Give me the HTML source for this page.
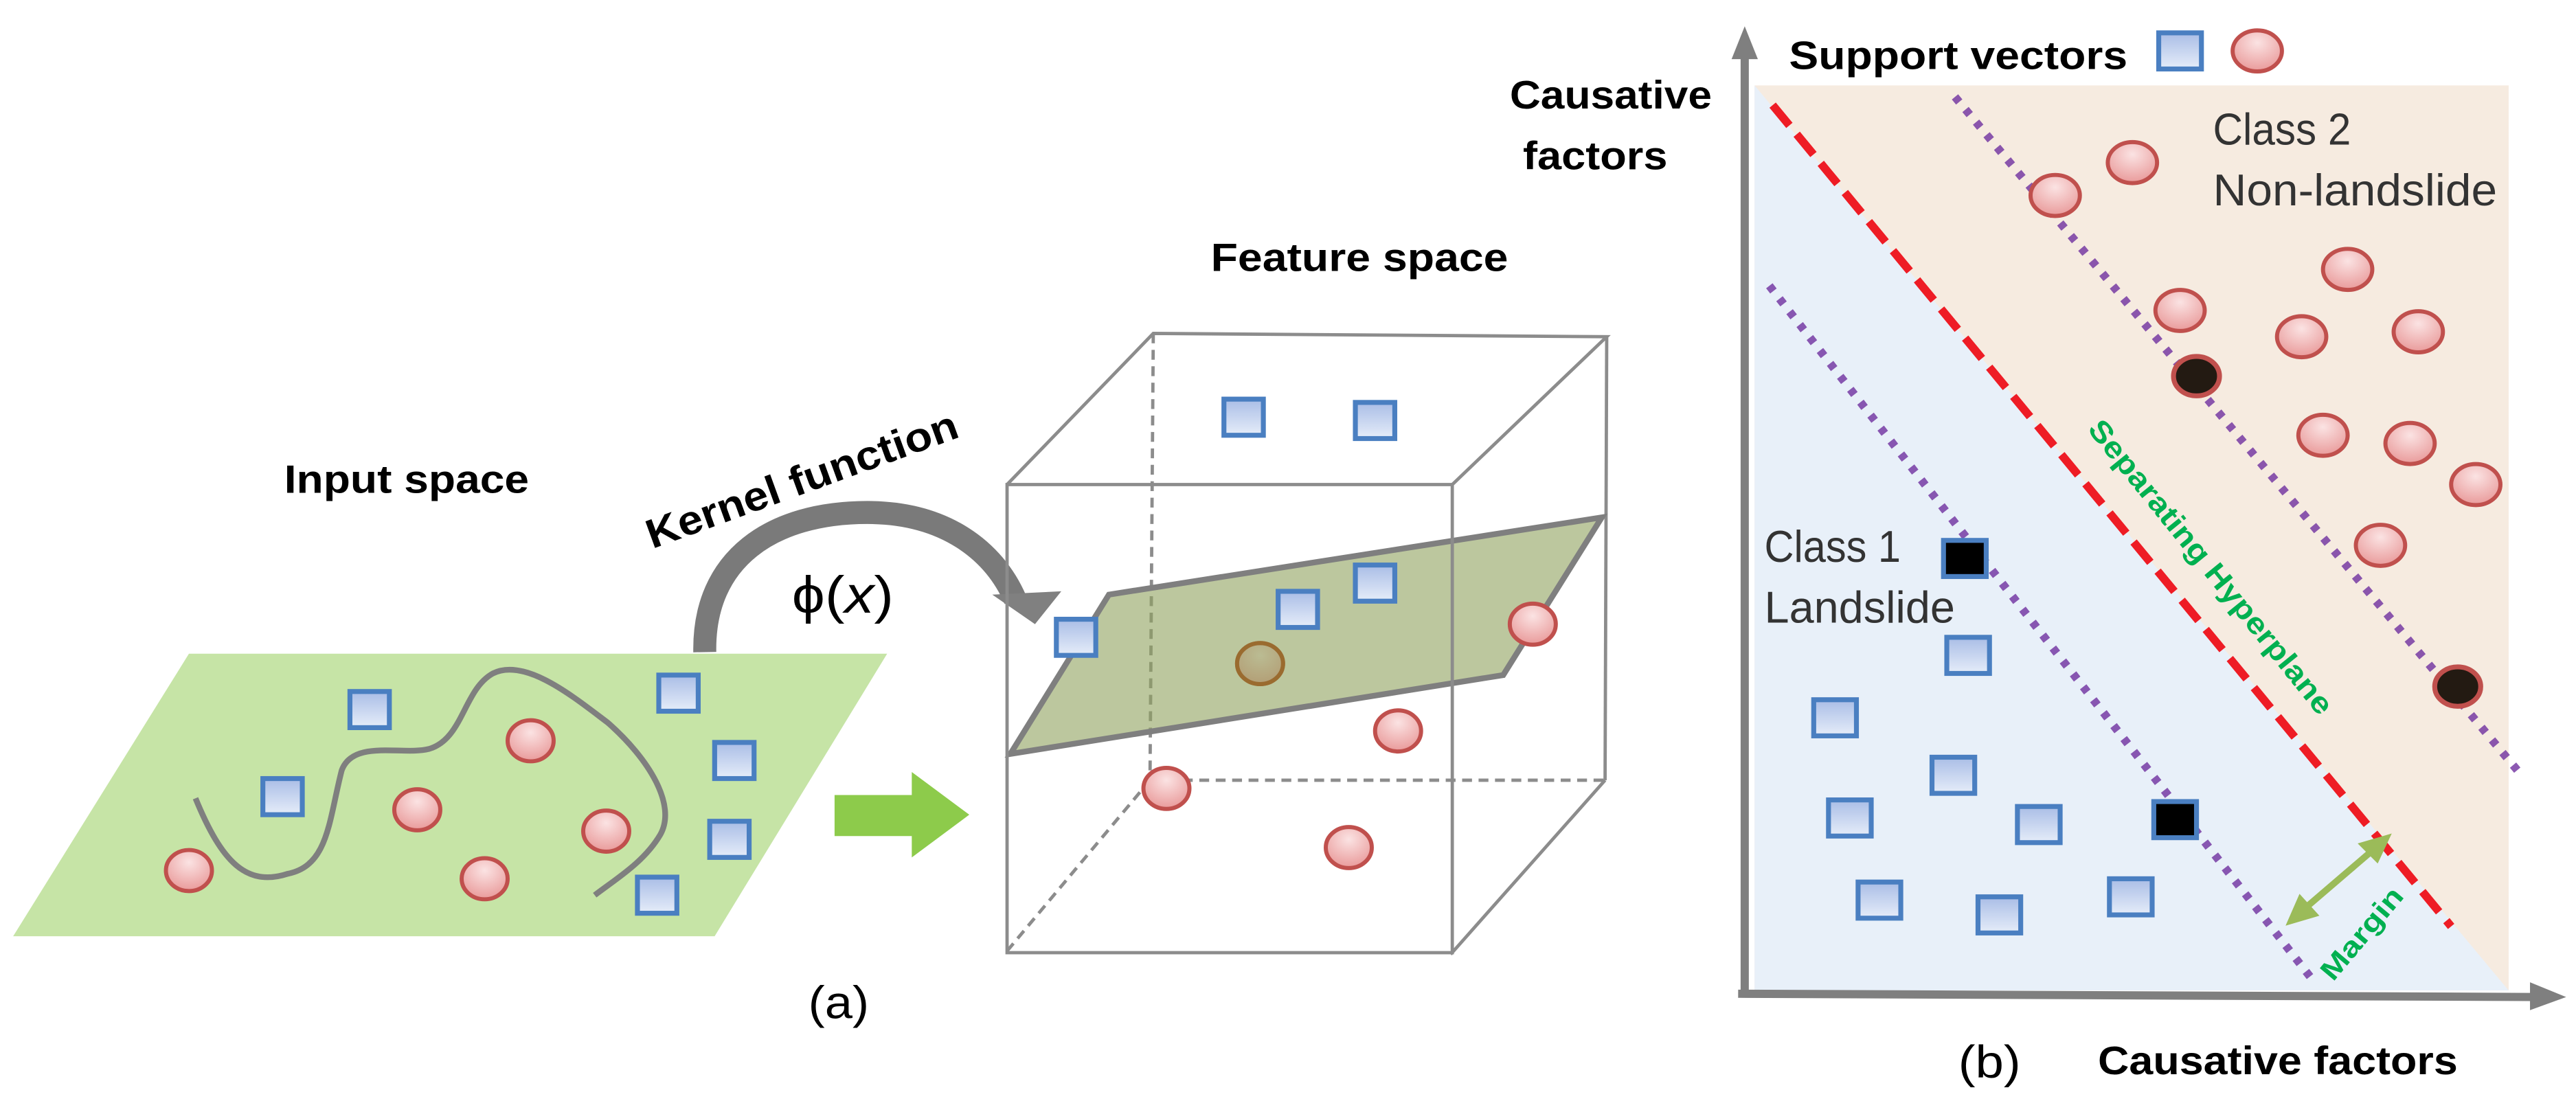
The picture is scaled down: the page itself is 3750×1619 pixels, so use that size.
<!DOCTYPE html>
<html><head><meta charset="utf-8"><style>
html,body{margin:0;padding:0;background:#fff;}
svg{display:block;}
text{font-family:"Liberation Sans",sans-serif;}
</style></head><body>
<svg width="3750" height="1619" viewBox="0 0 1568 677" preserveAspectRatio="none" xmlns="http://www.w3.org/2000/svg">
<defs>
<linearGradient id="sq" x1="0" y1="0" x2="0" y2="1"><stop offset="0" stop-color="#a9bde6"/><stop offset="1" stop-color="#e6edf9"/></linearGradient>
<radialGradient id="ci" cx="0.5" cy="0.3" r="0.7"><stop offset="0" stop-color="#fbe3e3"/><stop offset="1" stop-color="#e99a9a"/></radialGradient>
<g id="s"><rect x="-12" y="-11" width="24" height="22" fill="url(#sq)" stroke="#4a7fc1" stroke-width="3"/></g>
<g id="sb"><rect x="-13" y="-11" width="26" height="22" fill="url(#sq)" stroke="#4a7fc1" stroke-width="3"/></g>
<g id="c"><ellipse rx="14" ry="12.5" fill="url(#ci)" stroke="#c0504d" stroke-width="2.5"/></g>
<g id="cb"><ellipse rx="15" ry="12.5" fill="url(#ci)" stroke="#c0504d" stroke-width="2.5"/></g>
</defs>

<polygon points="8,570 115,398 540,398 435,570" fill="#c6e4a6"/>
<path d="M119,486 C135,525 150,540 175,532 C200,527 200,500 208,469 C215,450 245,460 261,456 C282,450 282,420 300,410 C320,400 350,425 370,440 C395,462 412,490 402,508 C392,525 375,535 362,545" fill="none" stroke="#7f7f7f" stroke-width="3.5"/>
<use href="#s" x="225" y="432"/><use href="#s" x="172" y="485"/><use href="#s" x="413" y="422"/>
<use href="#s" x="447" y="463"/><use href="#s" x="444" y="511"/><use href="#s" x="400" y="545"/>
<use href="#c" x="323" y="451"/><use href="#c" x="254" y="493"/><use href="#c" x="115" y="530"/>
<use href="#c" x="295" y="535"/><use href="#c" x="369" y="506"/>
<text x="173" y="300" font-size="24" font-weight="bold" textLength="149" lengthAdjust="spacingAndGlyphs">Input space</text>

<path d="M429,397 C428,340 470,312 528,312 C575,312 605,335 618,365" fill="none" stroke="#7a7a7a" stroke-width="14"/>
<polygon points="604,362 646,360 630,380" fill="#808080"/>
<text transform="translate(491,300) rotate(-20)" x="0" y="0" text-anchor="middle" font-size="25" font-weight="bold" textLength="200" lengthAdjust="spacingAndGlyphs">Kernel function</text>
<text x="482" y="373" font-family="DejaVu Serif,Liberation Serif,serif" font-size="32" textLength="62" lengthAdjust="spacingAndGlyphs">ϕ(<tspan font-style="italic">x</tspan>)</text>

<polygon points="508,484 555,484 555,470 590,496 555,522 555,509 508,509" fill="#8dcb4b"/>

<g fill="none" stroke="#8c8c8c" stroke-width="2">
<line x1="702" y1="203" x2="700" y2="475" stroke-dasharray="6,4"/>
<line x1="700" y1="475" x2="977" y2="475" stroke-dasharray="6,4"/>
<line x1="613" y1="579" x2="700" y2="475" stroke-dasharray="6,4"/>
<polyline points="613,295 702,203 978,205 884,295"/>
<line x1="978" y1="205" x2="977" y2="475"/>
<line x1="977" y1="475" x2="883" y2="581"/>
</g>
<use href="#c" x="767" y="404"/>
<polygon points="675,362 975,315 915,411 615,459" fill="#8fa15e" fill-opacity="0.6" stroke="#7f7f7f" stroke-width="3.5"/>
<ellipse cx="767" cy="404" rx="14" ry="12.5" fill="none" stroke="#9a6b2f" stroke-width="2.5"/>
<use href="#c" x="933" y="380"/>
<rect x="613" y="295" width="271" height="285" fill="none" stroke="#8c8c8c" stroke-width="2"/>
<use href="#s" x="757" y="254"/><use href="#s" x="837" y="256"/><use href="#s" x="790" y="371"/>
<use href="#s" x="837" y="355"/><use href="#s" x="655" y="388"/>
<use href="#c" x="851" y="445"/><use href="#c" x="710" y="480"/><use href="#c" x="821" y="516"/>
<text x="737" y="165" font-size="24" font-weight="bold" textLength="181" lengthAdjust="spacingAndGlyphs">Feature space</text>
<text x="492" y="620" font-size="28" textLength="37" lengthAdjust="spacingAndGlyphs">(a)</text>

<text x="919" y="66" font-size="24" font-weight="bold" textLength="123" lengthAdjust="spacingAndGlyphs">Causative</text>
<text x="927" y="103" font-size="24" font-weight="bold" textLength="88" lengthAdjust="spacingAndGlyphs">factors</text>
<rect x="1068" y="52" width="459" height="551" fill="#f6ebe0"/>
<polygon points="1068,52 1068,603 1527,603" fill="#e8f0f9"/>
<line x1="1077" y1="174" x2="1408" y2="597" stroke="#7030a0" stroke-width="5" stroke-dasharray="4,6" opacity="0.8"/>
<line x1="1190" y1="59" x2="1534" y2="471" stroke="#7030a0" stroke-width="5" stroke-dasharray="4,6" opacity="0.8"/>
<line x1="1079" y1="64" x2="1492" y2="564" stroke="#ee1c25" stroke-width="5" stroke-dasharray="16,7"/>
<line x1="1062" y1="607" x2="1062" y2="32" stroke="#7f7f7f" stroke-width="5"/>
<polygon points="1054,36 1062,16 1070,36" fill="#7f7f7f"/>
<line x1="1058" y1="605" x2="1545" y2="607" stroke="#7f7f7f" stroke-width="5"/>
<polygon points="1540,598 1562,607 1540,615" fill="#7f7f7f"/>

<text x="1089" y="42" font-size="24" font-weight="bold" textLength="206" lengthAdjust="spacingAndGlyphs">Support vectors</text>
<use href="#sb" x="1327" y="31"/><use href="#cb" x="1374" y="31"/>
<text x="1347" y="88" font-size="27" fill="#333" textLength="84" lengthAdjust="spacingAndGlyphs">Class 2</text>
<text x="1347" y="125" font-size="27" fill="#333" textLength="173" lengthAdjust="spacingAndGlyphs">Non-landslide</text>
<text x="1074" y="342" font-size="27" fill="#333" textLength="83" lengthAdjust="spacingAndGlyphs">Class 1</text>
<text x="1074" y="379" font-size="27" fill="#333" textLength="116" lengthAdjust="spacingAndGlyphs">Landslide</text>

<use href="#cb" x="1251" y="119"/><use href="#cb" x="1298" y="99"/><use href="#cb" x="1327" y="189"/>
<use href="#cb" x="1429" y="164"/><use href="#cb" x="1401" y="205"/><use href="#cb" x="1472" y="202"/>
<use href="#cb" x="1414" y="265"/><use href="#cb" x="1467" y="270"/><use href="#cb" x="1507" y="295"/>
<use href="#cb" x="1449" y="332"/>
<ellipse cx="1337" cy="229" rx="14" ry="12" fill="#231a12" stroke="#c0504d" stroke-width="3"/>
<ellipse cx="1496" cy="418" rx="14" ry="12" fill="#231a12" stroke="#c0504d" stroke-width="3"/>

<use href="#sb" x="1198" y="399"/><use href="#sb" x="1117" y="437"/><use href="#sb" x="1189" y="472"/>
<use href="#sb" x="1126" y="498"/><use href="#sb" x="1241" y="502"/><use href="#sb" x="1144" y="548"/>
<use href="#sb" x="1217" y="557"/><use href="#sb" x="1297" y="546"/>
<rect x="1183" y="329" width="26" height="22" fill="#000" stroke="#4a7fc1" stroke-width="3"/>
<rect x="1311" y="488" width="26" height="22" fill="#000" stroke="#4a7fc1" stroke-width="3"/>

<text transform="translate(1341,349) rotate(51)" text-anchor="middle" font-size="18" font-weight="bold" fill="#00b050" textLength="225" lengthAdjust="spacingAndGlyphs">Separating Hyperplane</text>
<line x1="1403" y1="553" x2="1445" y2="517" stroke="#9bbb59" stroke-width="4"/>
<polygon points="1454,509 1437,514 1447,524" fill="#9bbb59" stroke="#9bbb59" stroke-width="2"/>
<polygon points="1393,562 1400,546 1410,557" fill="#9bbb59" stroke="#9bbb59" stroke-width="2"/>
<text transform="translate(1442,572) rotate(-50)" text-anchor="middle" font-size="17" font-weight="bold" fill="#00b050" textLength="68" lengthAdjust="spacingAndGlyphs">Margin</text>

<text x="1192" y="656" font-size="28" textLength="38" lengthAdjust="spacingAndGlyphs">(b)</text>
<text x="1277" y="654" font-size="24" font-weight="bold" textLength="219" lengthAdjust="spacingAndGlyphs">Causative factors</text>
</svg>
</body></html>
